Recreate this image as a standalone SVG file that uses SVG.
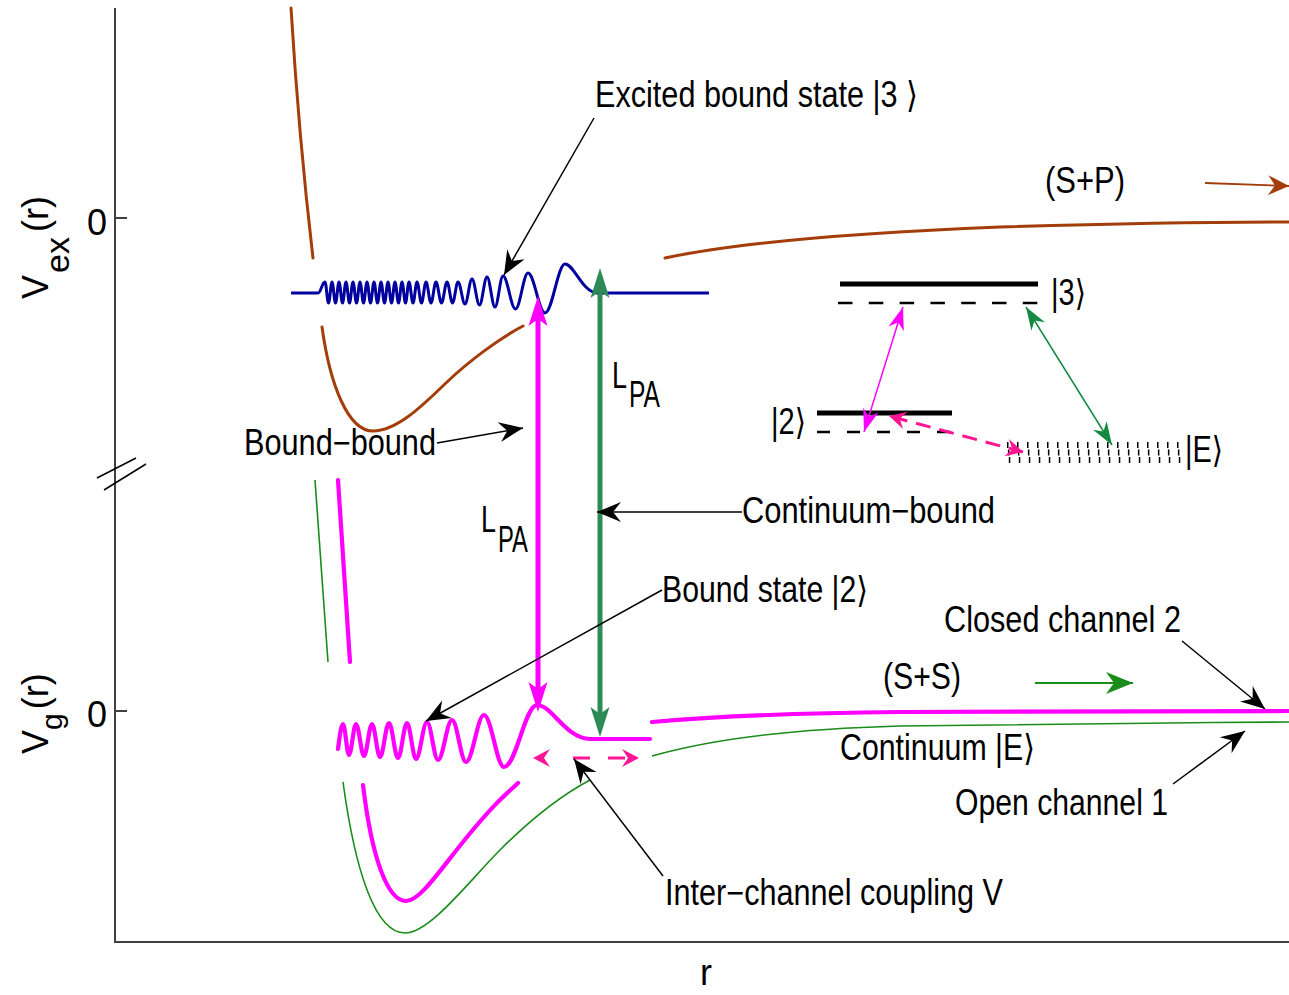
<svg xmlns="http://www.w3.org/2000/svg" width="1289" height="995" viewBox="0 0 1289 995">
<defs>
<style>
text{font-family:"Liberation Sans",Arial,"DejaVu Sans",sans-serif;font-size:36px;fill:#000}
.ax{stroke:#404040;stroke-width:2;fill:none}
.brown{stroke:#a33d0a;stroke-width:3;fill:none;stroke-linecap:round}
.blue{stroke:#0000a0;stroke-width:3;fill:none;stroke-linejoin:round}
.mag{stroke:#ff00ff;stroke-width:4.2;fill:none;stroke-linecap:round;stroke-linejoin:round}
.grn{stroke:#1a8c1a;stroke-width:1.6;fill:none}
.ann{stroke:#000;stroke-width:1.5;fill:none}
.bar{stroke:#000;stroke-width:5;fill:none}
.dsh{stroke:#000;stroke-width:2.5;fill:none}
.pink{stroke:#ff1493;stroke-width:3;fill:none}
</style>
<marker id="mk" markerUnits="userSpaceOnUse" markerWidth="40" markerHeight="40" orient="auto-start-reverse" overflow="visible"><path d="M0,0 L-24,-10 L-16,0 L-24,10 Z" fill="#000"/></marker>
<marker id="mkM" markerUnits="userSpaceOnUse" markerWidth="40" markerHeight="40" orient="auto-start-reverse" overflow="visible"><path d="M0,0 L-23,-8 L-16,0 L-23,8 Z" fill="#ff00ff"/></marker>
<marker id="mkG" markerUnits="userSpaceOnUse" markerWidth="40" markerHeight="40" orient="auto-start-reverse" overflow="visible"><path d="M0,0 L-23,-8 L-16,0 L-23,8 Z" fill="#138a3f"/></marker>
<marker id="mkP" markerUnits="userSpaceOnUse" markerWidth="40" markerHeight="40" orient="auto-start-reverse" overflow="visible"><path d="M0,0 L-17,-9 L-11,0 L-17,9 Z" fill="#ff1493"/></marker>
<marker id="mkB" markerUnits="userSpaceOnUse" markerWidth="40" markerHeight="40" orient="auto" overflow="visible"><path d="M0,0 L-21,-10 L-14,0 L-21,10 Z" fill="#a33d0a"/></marker>
<marker id="mkS" markerUnits="userSpaceOnUse" markerWidth="40" markerHeight="40" orient="auto" overflow="visible"><path d="M0,0 L-27,-11 L-19,0 L-27,11 Z" fill="#1a8c1a"/></marker>
<marker id="bigM" markerUnits="userSpaceOnUse" markerWidth="60" markerHeight="60" orient="auto-start-reverse" overflow="visible"><path d="M23,0 L-7,-9.5 L0,0 L-7,9.5 Z" fill="#ff00ff"/></marker>
<marker id="bigG" markerUnits="userSpaceOnUse" markerWidth="60" markerHeight="60" orient="auto-start-reverse" overflow="visible"><path d="M23,0 L-7,-9.5 L0,0 L-7,9.5 Z" fill="#2e8b57"/></marker>
</defs>
<rect width="1289" height="995" fill="#fff"/>

<g id="axes">
<path class="ax" d="M115,8 V942 H1289"/>
<path class="ax" d="M115,218 H127 M115,711 H127"/>
<path stroke="#000" stroke-width="1.5" d="M97,478 L136,458 M104,490 L146,464"/>
<text x="87" y="235" font-size="40">0</text>
<text x="87" y="727" font-size="40">0</text>
<text x="700" y="985" font-size="38">r</text>
<text transform="translate(48,299) rotate(-90)" font-size="42">V<tspan font-size="34" dy="21" dx="2">ex</tspan><tspan dy="-21" dx="5">(r)</tspan></text>
<text transform="translate(48,754) rotate(-90)" font-size="42">V<tspan font-size="30" dy="14">g</tspan><tspan dy="-14" dx="4">(r)</tspan></text>
</g>

<g id="excited-potential">
<path class="brown" d="M291,8 C296,90 305,190 313,258"/>
<path class="brown" d="M322,327 C330,385 348,431 373,431 C398,431 425,403 447,382 S500,338 523,326"/>
<path class="brown" d="M665,258 C750,240 900,231 1000,227 C1100,224 1200,222 1289,222"/>
</g>

<g id="ground-potentials">
<path class="mag" d="M338,480 C342,540 346,600 350,662"/>
<path class="mag" d="M363,785 C372,860 388,901 406,901 C420,901 440,870 467,837 S505,795 518,783"/>
<path class="mag" d="M652,722 C720,716 800,713 900,712 L1289,711"/>
<path class="grn" d="M315,480 C319,540 323,600 328,662"/>
<path class="grn" d="M343,782 C355,870 375,933 405,933 C430,933 470,880 500,850 S560,796 590,780"/>
<path class="grn" d="M652,756 C720,737 800,729 900,726 C1000,724 1150,723 1289,722"/>
</g>

<g id="excited-bound-state-wave">
<path class="blue" d="M291,293 H318 C321,293 322,282 325,282 c1.27,0 2.23,21 3.5,21 c1.27,0 2.23,-21 3.5,-21 c1.27,0 2.23,21 3.5,21 c1.27,0 2.23,-21 3.5,-21 c1.27,0 2.23,21 3.5,21 c1.27,0 2.23,-21 3.5,-21 c1.27,0 2.23,21 3.5,21 c1.27,0 2.23,-21 3.5,-21 c1.27,0 2.23,21 3.5,21 c1.27,0 2.23,-21 3.5,-21 c1.27,0 2.23,21 3.5,21 c1.27,0 2.23,-21 3.5,-21 c1.27,0 2.23,21 3.5,21 c1.27,0 2.23,-21 3.5,-21 c1.27,0 2.23,21 3.5,21 c1.27,0 2.23,-21 3.5,-21 c1.27,0 2.23,21 3.5,21 c1.27,0 2.23,-21 3.5,-21 c1.27,0 2.23,21 3.5,21 c1.27,0 2.23,-21 3.5,-21 c1.27,0 2.23,21 3.5,21 c1.27,0 2.23,-21 3.5,-21 c1.27,0 2.23,21 3.5,21 c1.27,0 2.23,-21 3.5,-21 c1.46,0 2.54,21 4,21 c1.46,0 2.54,-21 4,-21 c1.64,0 2.86,21 4.5,21 c1.64,0 2.86,-21 4.5,-21 c1.82,0 3.18,21 5,21 c1.82,0 3.18,-21 5,-21 c2,0 3.5,21 5.5,21 c2,0 3.5,-21 5.5,-21 c2,0 3.5,21 5.5,21 c2,0 3.5,-21 5.5,-21 c2.55,0 4.45,22 7,22 c2.55,0 4.45,-25 7,-25 c2.73,0 4.77,26 7.5,26 c2.73,0 4.77,-28 7.5,-28 c2.91,0 5.09,30 8,30 c2.91,0 5.09,-31 8,-31 c4.55,0 7.95,33 12.5,33 c4.55,0 7.95,-36 12.5,-36 c6.19,0 10.81,40 17,40 c7.28,0 12.72,-49 20,-49 C574,264 582,292 597,293 H709"/>
</g>

<g id="bound-state-2-wave">
<path class="mag" stroke-width="3.8" d="M338,749 C339.5,738 341,724 343,724 C345.2,724 346.8,755 349,755 C351.5,755 353.5,724 356,724 C358.9,724 361.1,756 364,756 C366.9,756 369.1,724 372,724 C374.9,724 377.1,757 380,757 C383.3,757 385.7,723 389,723 C392.3,723 394.7,758 398,758 C401.3,758 403.7,723 407,723 C410.3,723 412.7,759 416,759 C420,759 423,722 427,722 C431,722 434,760 438,760 C443.1,760 446.9,720 452,720 C457.1,720 460.9,762 466,762 C472.6,762 477.4,715 484,715 C491.3,715 496.7,767 504,767 C516,767 525,705 537,705 C552,705 565,738 590,739 H650"/>
</g>

<g id="connectors">
<path stroke="#ff00ff" stroke-width="5" fill="none" d="M538,319 V689" marker-start="url(#bigM)" marker-end="url(#bigM)"/>
<path stroke="#2e8b57" stroke-width="5" fill="none" d="M600,291 V714" marker-start="url(#bigG)" marker-end="url(#bigG)"/>
<path class="pink" stroke-dasharray="0 40 17 18 17 40" d="M533,758 H639" marker-start="url(#mkP)" marker-end="url(#mkP)"/>
<path class="ann" d="M594,118 L504,275" marker-end="url(#mk)"/>
<path class="ann" d="M437,443 L523,428" marker-end="url(#mk)"/>
<path class="ann" d="M742,512 L597,512" marker-end="url(#mk)"/>
<path class="ann" d="M662,590 L426,721" marker-end="url(#mk)"/>
<path class="ann" d="M1182,641 L1265,709" marker-end="url(#mk)"/>
<path class="ann" d="M1173,784 L1245,731" marker-end="url(#mk)"/>
<path class="ann" d="M663,876 L574,759" marker-end="url(#mk)"/>
<path stroke="#a33d0a" stroke-width="1.8" fill="none" d="M1205,183 L1289,186" marker-end="url(#mkB)"/>
<path stroke="#1a8c1a" stroke-width="1.8" fill="none" d="M1035,683 L1133,683" marker-end="url(#mkS)"/>
</g>

<g id="level-scheme">
<path class="bar" d="M840,284 H1038"/>
<path class="dsh" stroke-dasharray="14.5 16.3" d="M838,303 H1038"/>
<path class="bar" d="M817,413 H952"/>
<path class="dsh" stroke-dasharray="13 17" d="M817,432 H952"/>
<g id="continuum-E" stroke="#000" stroke-width="6" fill="none">
<path stroke-dasharray="1.5 8.5" d="M1007,445 H1186"/>
<path stroke-dasharray="1.5 8.5" stroke-dashoffset="-0.9" d="M1007,452.5 H1186"/>
<path stroke-dasharray="1.5 8.5" stroke-dashoffset="-1.8" d="M1007,460 H1186"/>
</g>
<path stroke="#ff00ff" stroke-width="1.5" fill="none" d="M903,307 L864,432" marker-start="url(#mkM)" marker-end="url(#mkM)"/>
<path stroke="#138a3f" stroke-width="1.5" fill="none" d="M1026,307 L1112,445" marker-start="url(#mkG)" marker-end="url(#mkG)"/>
<path class="pink" stroke-dasharray="15 9" stroke-dashoffset="-4" d="M889,416 L1023,452" marker-start="url(#mkP)" marker-end="url(#mkP)"/>
<text x="1051" y="305" font-size="32" textLength="35" lengthAdjust="spacingAndGlyphs">|3⟩</text>
<text x="771" y="434" font-size="32" textLength="35" lengthAdjust="spacingAndGlyphs">|2⟩</text>
<text x="1185" y="462" font-size="32" textLength="38" lengthAdjust="spacingAndGlyphs">|E⟩</text>
</g>

<g id="labels">
<text x="595" y="107" textLength="323" lengthAdjust="spacingAndGlyphs">Excited bound state |3 ⟩</text>
<text x="1045" y="193" font-size="34" textLength="80" lengthAdjust="spacingAndGlyphs">(S+P)</text>
<text x="244" y="455" textLength="192" lengthAdjust="spacingAndGlyphs">Bound−bound</text>
<text x="742" y="523" textLength="253" lengthAdjust="spacingAndGlyphs">Continuum−bound</text>
<text x="662" y="602" textLength="206" lengthAdjust="spacingAndGlyphs">Bound state |2⟩</text>
<text x="944" y="632" textLength="237" lengthAdjust="spacingAndGlyphs">Closed channel 2</text>
<text x="883" y="689" font-size="34" textLength="78" lengthAdjust="spacingAndGlyphs">(S+S)</text>
<text x="840" y="760" textLength="195" lengthAdjust="spacingAndGlyphs">Continuum |E⟩</text>
<text x="955" y="815" textLength="213" lengthAdjust="spacingAndGlyphs">Open channel 1</text>
<text x="665" y="905" textLength="338" lengthAdjust="spacingAndGlyphs">Inter−channel coupling V</text>
<g id="LPA-green">
<text x="612" y="388" font-size="37" fill="#2e8b57" textLength="15" lengthAdjust="spacingAndGlyphs">L</text>
<text x="629" y="407" font-size="37" fill="#2e8b57" textLength="31" lengthAdjust="spacingAndGlyphs">PA</text>
</g>
<g id="LPA-magenta">
<text x="481" y="532" font-size="37" fill="#ff00ff" textLength="15" lengthAdjust="spacingAndGlyphs">L</text>
<text x="498" y="552" font-size="37" fill="#ff00ff" textLength="30" lengthAdjust="spacingAndGlyphs">PA</text>
</g>
</g>
</svg>
